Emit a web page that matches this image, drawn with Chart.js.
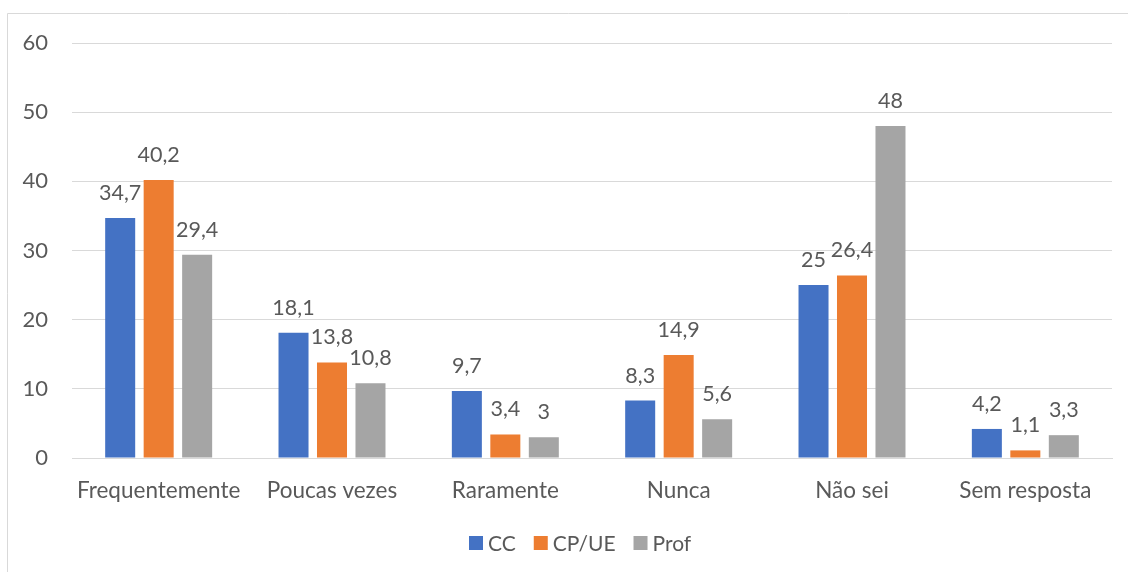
<!DOCTYPE html>
<html><head><meta charset="utf-8">
<script src="https://cdn.jsdelivr.net/npm/chart.js@4/dist/chart.umd.min.js"></script>
<style>html,body{margin:0;padding:0;background:#fff;}#wrap{width:1128px;height:572px;position:relative;}</style>
</head><body><div id="wrap"><canvas id="c" width="1128" height="572"></canvas></div>
<script>
const categories = ["Frequentemente","Poucas vezes","Raramente","Nunca","Não sei","Sem resposta"];
const ccValues = [34.7, 18.1, 9.7, 8.3, 25, 4.2];
const cpueValues = [40.2, 13.8, 3.4, 14.9, 26.4, 1.1];
const profValues = [29.4, 10.8, 3, 5.6, 48, 3.3];
const yTicks = [0,10,20,30,40,50,60];

const FONT = "Lato, 'Noto Sans', sans-serif";
const TXT = "#595959";

const borderPlugin = {
  id:'border',
  beforeDraw(chart){
    const ctx = chart.ctx;
    ctx.save();
    ctx.fillStyle='#fff'; ctx.fillRect(0,0,chart.width,chart.height);
    ctx.strokeStyle='#d9d9d9'; ctx.lineWidth=1;
    ctx.beginPath();
    ctx.moveTo(7.5, 600); ctx.lineTo(7.5,13.5); ctx.lineTo(1200,13.5);
    ctx.stroke();
    ctx.restore();
  }
};
const labelPlugin = {
  id:'vlabels',
  afterDatasetsDraw(chart){
    const ctx = chart.ctx;
    ctx.save();
    ctx.font = "21.5px " + FONT;
    ctx.fillStyle = TXT;
    ctx.textAlign='center';
    ctx.textBaseline='middle';
    chart.data.datasets.forEach((ds,i)=>{
      chart.getDatasetMeta(i).data.forEach((bar,j)=>{
        const v = ds.data[j];
        ctx.fillText(String(v).replace('.',','), bar.x, bar.y - 25);
      });
    });
    ctx.restore();
  }
};
const legendPlugin = {
  id:'customLegend',
  afterDraw(chart){
    const ctx = chart.ctx;
    ctx.save();
    ctx.font = "21px " + FONT;
    ctx.textBaseline='middle';
    ctx.textAlign='left';
    const y = 543;
    let x = 469;
    chart.data.datasets.forEach(ds=>{
      ctx.fillStyle = ds.backgroundColor;
      ctx.fillRect(x, y-7, 14, 14);
      x += 14 + 5;
      ctx.fillStyle = TXT;
      ctx.fillText(ds.label, x, y+1);
      x += ctx.measureText(ds.label).width + 18;
    });
    ctx.restore();
  }
};

new Chart(document.getElementById('c'),{
  type:'bar',
  data:{
    labels:categories,
    datasets:[
      {label:'CC', data:ccValues, backgroundColor:'#4472C4'},
      {label:'CP/UE', data:cpueValues, backgroundColor:'#ED7D31'},
      {label:'Prof', data:profValues, backgroundColor:'#A5A5A5'}
    ]
  },
  options:{
    responsive:false, animation:false,
    categoryPercentage:0.666, barPercentage:0.78,
    layout:{padding:{top:43,right:16,bottom:56,left:0}},
    plugins:{
      tooltip:{enabled:false},
      legend:{display:false}
    },
    scales:{
      x:{
        grid:{display:false, drawTicks:false},
        border:{display:true,color:'#d9d9d9'},
        ticks:{color:TXT,font:{family:FONT,size:22.5},padding:19,maxRotation:0},
        afterFit(s){s.height=58;}
      },
      y:{
        min:0,max:60,
        afterBuildTicks(s){s.ticks=yTicks.map(v=>({value:v}));},
        grid:{color:'#d9d9d9',drawTicks:false},
        border:{display:false},
        ticks:{color:TXT,font:{family:FONT,size:22},padding:24},
        afterFit(s){s.width=72;}
      }
    }
  },
  plugins:[borderPlugin,labelPlugin,legendPlugin]
});
</script></body></html>
